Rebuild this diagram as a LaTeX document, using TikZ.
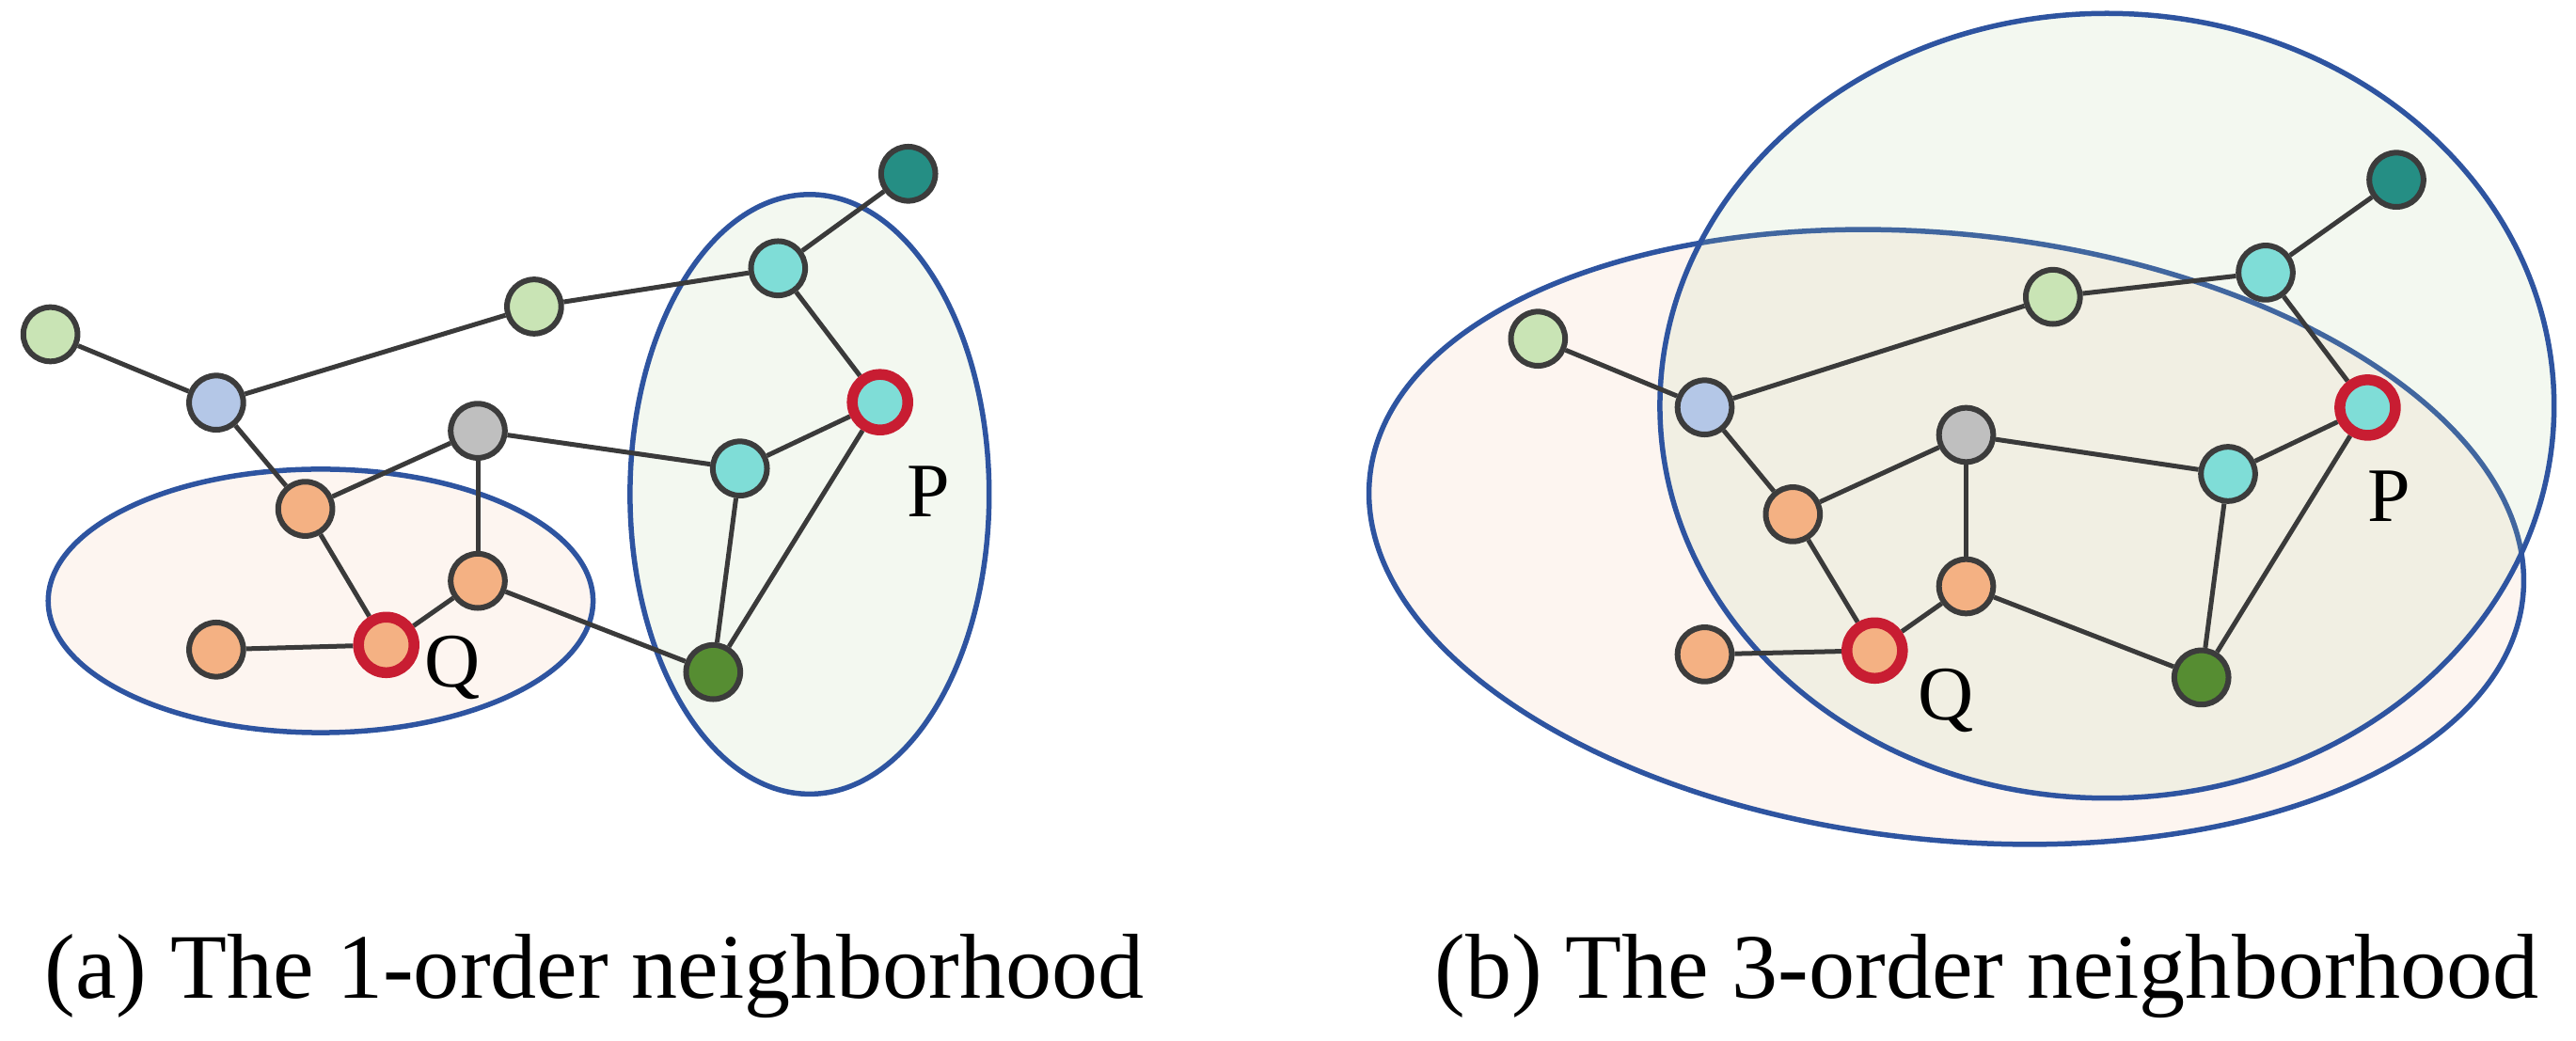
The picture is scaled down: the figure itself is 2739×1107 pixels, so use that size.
\documentclass[tikz,border=0pt]{standalone}
\usepackage{fontspec}
\setmainfont{Liberation Serif}
\definecolor{nborder}{HTML}{3C3C3C}
\definecolor{edgec}{HTML}{3A3A3A}
\definecolor{ellb}{HTML}{2E54A0}
\definecolor{pinkf}{HTML}{FDF5F0}
\definecolor{greenf}{RGB}{175,208,155}
\definecolor{lgreen}{HTML}{C9E4B5}
\definecolor{lblue}{HTML}{B4C7E7}
\definecolor{lgray}{HTML}{BFBFBF}
\definecolor{orng}{HTML}{F4B183}
\definecolor{cyn}{HTML}{7FDDD7}
\definecolor{tealc}{HTML}{258E84}
\definecolor{dgreen}{HTML}{568D32}
\definecolor{redr}{HTML}{C81D32}
\pgfdeclarelayer{bg}
\pgfdeclarelayer{edgelayer}
\pgfsetlayers{bg,edgelayer,main}
\begin{document}
\begin{tikzpicture}[x=0.01cm,y=-0.01cm,
  gnode/.style={circle,draw=nborder,line width=0.06cm,minimum size=0.576cm,inner sep=0pt},
  qnode/.style={circle,draw=redr,line width=0.115cm,minimum size=0.59cm,inner sep=0pt},
  link/.style={draw=edgec,line width=0.05cm},
  region/.style={draw=ellb,line width=0.055cm},
  greenregion/.style={region,fill=greenf,fill opacity=0.15},
  pinkregion/.style={region,fill=pinkf},
  lbl/.style={font=\fontsize{23.3pt}{26pt}\selectfont,inner sep=0pt,anchor=base},
  captext/.style={font=\fontsize{27.9pt}{32pt}\selectfont,inner sep=0pt,anchor=base west}]
\useasboundingbox (0,0) rectangle (2739,1107);

% ---------- panel (a) ----------
\node[gnode,fill=lgreen] (ag1) at (53.6,355.5) {};
\node[gnode,fill=lblue]  (abl) at (229.9,428.2) {};
\node[gnode,fill=lgreen] (ag2) at (567.9,326.0) {};
\node[gnode,fill=lgray]  (agr) at (508.0,458.1) {};
\node[gnode,fill=orng]   (ao1) at (324.6,541.1) {};
\node[gnode,fill=orng]   (ao2) at (508.0,617.7) {};
\node[gnode,fill=orng]   (aoL) at (229.9,690.8) {};
\node[qnode,fill=orng]   (aQ)  at (410.7,685.8) {};
\node[gnode,fill=tealc]  (atl) at (965.7,184.8) {};
\node[gnode,fill=cyn]    (act) at (827.3,285.3) {};
\node[qnode,fill=cyn]    (aP)  at (935.7,427.7) {};
\node[gnode,fill=cyn]    (acm) at (786.7,498.2) {};
\node[gnode,fill=dgreen] (adg) at (758.3,714.7) {};
\node[lbl] (aQl) at (481,731) {Q};
\node[lbl] (aPl) at (987,550) {P};

% ---------- panel (b) ----------
\node[gnode,fill=lgreen] (bg1) at (1635.3,360.2) {};
\node[gnode,fill=lblue]  (bbl) at (1812.5,433.2) {};
\node[gnode,fill=lgreen] (bg2) at (2182.8,315.7) {};
\node[gnode,fill=lgray]  (bgr) at (2090.5,462.5) {};
\node[gnode,fill=orng]   (bo1) at (1906.3,546.9) {};
\node[gnode,fill=orng]   (bo2) at (2090.5,623.5) {};
\node[gnode,fill=orng]   (boL) at (1812.5,695.9) {};
\node[qnode,fill=orng]   (bQ)  at (1993.3,691.8) {};
\node[gnode,fill=tealc]  (btl) at (2548,191.2) {};
\node[gnode,fill=cyn]    (bct) at (2409,289.9) {};
\node[qnode,fill=cyn]    (bP)  at (2517.4,433.4) {};
\node[gnode,fill=cyn]    (bcm) at (2369,504) {};
\node[gnode,fill=dgreen] (bdg) at (2340.7,720.4) {};
\node[lbl] (bQl) at (2069,766) {Q};
\node[lbl] (bPl) at (2540,555) {P};

% captions
\node[captext] (capa) at (47,1061) {(a) The 1-order neighborhood};
\node[captext] (capb) at (1525,1061) {(b) The 3-order neighborhood};

% ---------- edges ----------
\begin{pgfonlayer}{edgelayer}
\foreach \p in {a,b}{
  \draw[link] (\p g1) -- (\p bl);
  \draw[link] (\p bl) -- (\p g2);
  \draw[link] (\p g2) -- (\p ct);
  \draw[link] (\p ct) -- (\p tl);
  \draw[link] (\p ct) -- (\p P);
  \draw[link] (\p bl) -- (\p o1);
  \draw[link] (\p o1) -- (\p gr);
  \draw[link] (\p gr) -- (\p o2);
  \draw[link] (\p gr) -- (\p cm);
  \draw[link] (\p o1) -- (\p Q);
  \draw[link] (\p Q) -- (\p o2);
  \draw[link] (\p oL) -- (\p Q);
  \draw[link] (\p o2) -- (\p dg);
  \draw[link] (\p cm) -- (\p P);
  \draw[link] (\p cm) -- (\p dg);
  \draw[link] (\p P) -- (\p dg);
}
\end{pgfonlayer}

% ---------- regions ----------
\begin{pgfonlayer}{bg}
\path[pinkregion] (340.9,639) ellipse [x radius=2.895cm, y radius=1.40cm];
\path[greenregion] (860.8,525.6) ellipse [x radius=1.908cm, y radius=3.186cm];
\path[pinkregion, rotate around={-6:(2069.5,571)}] (2069.5,571) ellipse [x radius=6.16cm, y radius=3.22cm];
\path[greenregion] (2240.3,431.5) ellipse [x radius=4.751cm, y radius=4.17cm];
\end{pgfonlayer}
\end{tikzpicture}
\end{document}
